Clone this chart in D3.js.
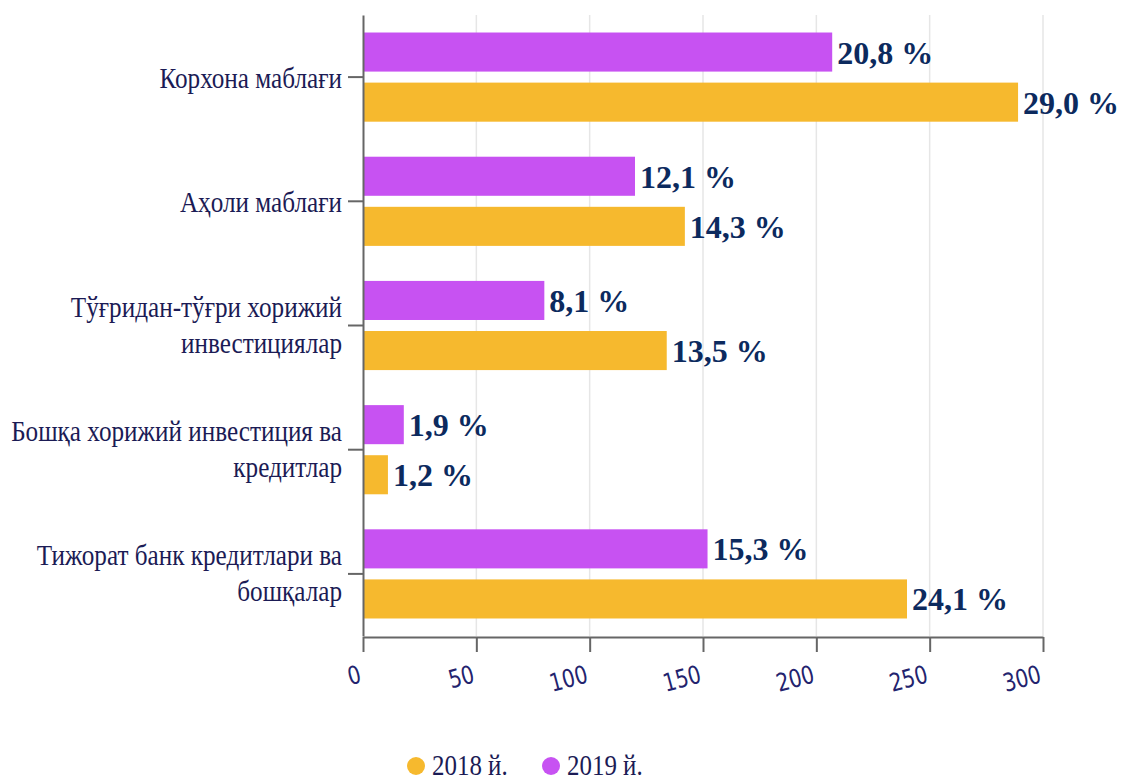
<!DOCTYPE html>
<html>
<head>
<meta charset="utf-8">
<script src="https://cdn.jsdelivr.net/npm/d3@7"></script>
<style>
    body { margin: 0; background: #fff; }
</style>
</head>
<body>
<div id="chart"></div>
<script>
// data
let categories = [
    ["Корхона маблағи"],
    ["Аҳоли маблағи"],
    ["Тўғридан-тўғри хорижий", "инвестициялар"],
    ["Бошқа хорижий инвестиция ва", "кредитлар"],
    ["Тижорат банк кредитлари ва", "бошқалар"]
];
let values2019 = [207, 120, 80, 18, 152];
let values2018 = [289, 142, 134, 11, 240];
let labels2019 = ["20,8 %", "12,1 %", "8,1 %", "1,9 %", "15,3 %"];
let labels2018 = ["29,0 %", "14,3 %", "13,5 %", "1,2 %", "24,1 %"];
let xTicks = [0, 50, 100, 150, 200, 250, 300];
let seriesNames = ["2019 й.", "2018 й."];
let legendOrder = ["2018 й.", "2019 й."];

let width = 1123;
let height = 783;
let margin = ({
    top: 15,
    bottom: 147,
    left: 363,
    right: 80
});
let colors = {"2019 й.": "#c752f2", "2018 й.": "#f6b92e"};
let textColor = "#1b1b55";
let valueColor = "#0c2a5e";

let data = categories.map((c, i) => ({
    key: c.join(" "),
    lines: c,
    bars: [
        {series: "2019 й.", value: values2019[i], label: labels2019[i]},
        {series: "2018 й.", value: values2018[i], label: labels2018[i]}
    ]
}));

let xScale = d3.scaleLinear()
    .domain([0, 300])
    .range([margin.left, width - margin.right]);

let yScale = d3.scaleBand()
    .domain(data.map(d => d.key))
    .range([margin.top, height - margin.bottom])
    .paddingInner(0.282)
    .paddingOuter(0.141);

let subScale = d3.scaleBand()
    .domain(seriesNames)
    .range([0, yScale.bandwidth()])
    .paddingInner(0.22);

let svg = d3.select("#chart")
    .append("svg")
    .attr("width", width)
    .attr("height", height)
    .attr("viewBox", [0, 0, width, height]);

// grid
svg.append("g")
    .selectAll("line")
    .data(xTicks.slice(1))
    .join("line")
    .attr("x1", d => xScale(d))
    .attr("x2", d => xScale(d))
    .attr("y1", margin.top)
    .attr("y2", height - margin.bottom)
    .attr("stroke", "#e6e6e6")
    .attr("stroke-width", 1.5);

// bars
let group = svg.append("g")
    .selectAll("g")
    .data(data)
    .join("g")
    .attr("transform", d => `translate(0,${yScale(d.key)})`);

group.selectAll("rect")
    .data(d => d.bars)
    .join("rect")
    .attr("x", xScale(0))
    .attr("y", d => subScale(d.series))
    .attr("width", d => xScale(d.value) - xScale(0))
    .attr("height", subScale.bandwidth())
    .attr("fill", d => colors[d.series]);

group.selectAll("text")
    .data(d => d.bars)
    .join("text")
    .attr("x", d => xScale(d.value) + 5)
    .attr("y", d => subScale(d.series) + subScale.bandwidth() / 2)
    .attr("dy", "0.36em")
    .attr("font-family", "'Liberation Serif', 'Times New Roman', serif")
    .attr("font-weight", "bold")
    .attr("font-size", 32)
    .attr("fill", valueColor)
    .text(d => d.label);

// x axis
let xAxis = g =>
    g.attr("transform", `translate(0,${height - margin.bottom + 1})`)
        .call(d3.axisBottom(xScale).tickValues(xTicks).tickSize(15).tickSizeOuter(0))
        .call(g => g.select(".domain").attr("stroke", "#666").attr("stroke-width", 2))
        .call(g => g.selectAll(".tick line").attr("stroke", "#666").attr("stroke-width", 2))
        .call(g => g.selectAll(".tick text")
            .attr("y", 0)
            .attr("dy", 0)
            .attr("text-anchor", "end")
            .attr("transform", "translate(-1,45) rotate(-15) scale(0.8,1)")
            .attr("font-family", "'DejaVu Sans', sans-serif")
            .attr("font-size", 25)
            .attr("fill", "#23236e"));

// y axis
let yAxis = g =>
    g.attr("transform", `translate(${margin.left},0)`)
        .call(d3.axisLeft(yScale).tickSize(15).tickSizeOuter(0).tickFormat(""))
        .call(g => g.select(".domain").attr("stroke", "#666").attr("stroke-width", 2))
        .call(g => g.selectAll(".tick line").attr("stroke", "#666").attr("stroke-width", 2));

svg.append("g").call(xAxis);
svg.append("g").call(yAxis);

// category labels
svg.append("g")
    .selectAll("text")
    .data(data)
    .join("text")
    .attr("transform", d => `translate(${margin.left - 21},${yScale(d.key) + yScale.bandwidth() / 2}) scale(0.84,1)`)
    .attr("text-anchor", "end")
    .attr("font-family", "'Liberation Serif', 'Times New Roman', serif")
    .attr("font-size", 30)
    .attr("fill", textColor)
    .each(function(d) {
        let t = d3.select(this);
        let n = d.lines.length;
        d.lines.forEach((line, i) => {
            t.append("tspan")
                .attr("x", 0)
                .attr("y", 11 - (n - 1) * 20 + i * 36)
                .text(line);
        });
    });

// legend
let legend = svg.append("g")
    .attr("transform", `translate(0,${height - 17})`)
    .selectAll("g")
    .data(legendOrder)
    .join("g")
    .attr("transform", (d, i) => `translate(${416 + i * 135},0)`);

legend.append("circle")
    .attr("r", 9)
    .attr("fill", d => colors[d]);

legend.append("text")
    .attr("transform", "translate(16,9) scale(0.86,1)")
    .attr("font-family", "'Liberation Serif', 'Times New Roman', serif")
    .attr("font-size", 29)
    .attr("fill", textColor)
    .text(d => d);
</script>
</body>
</html>
